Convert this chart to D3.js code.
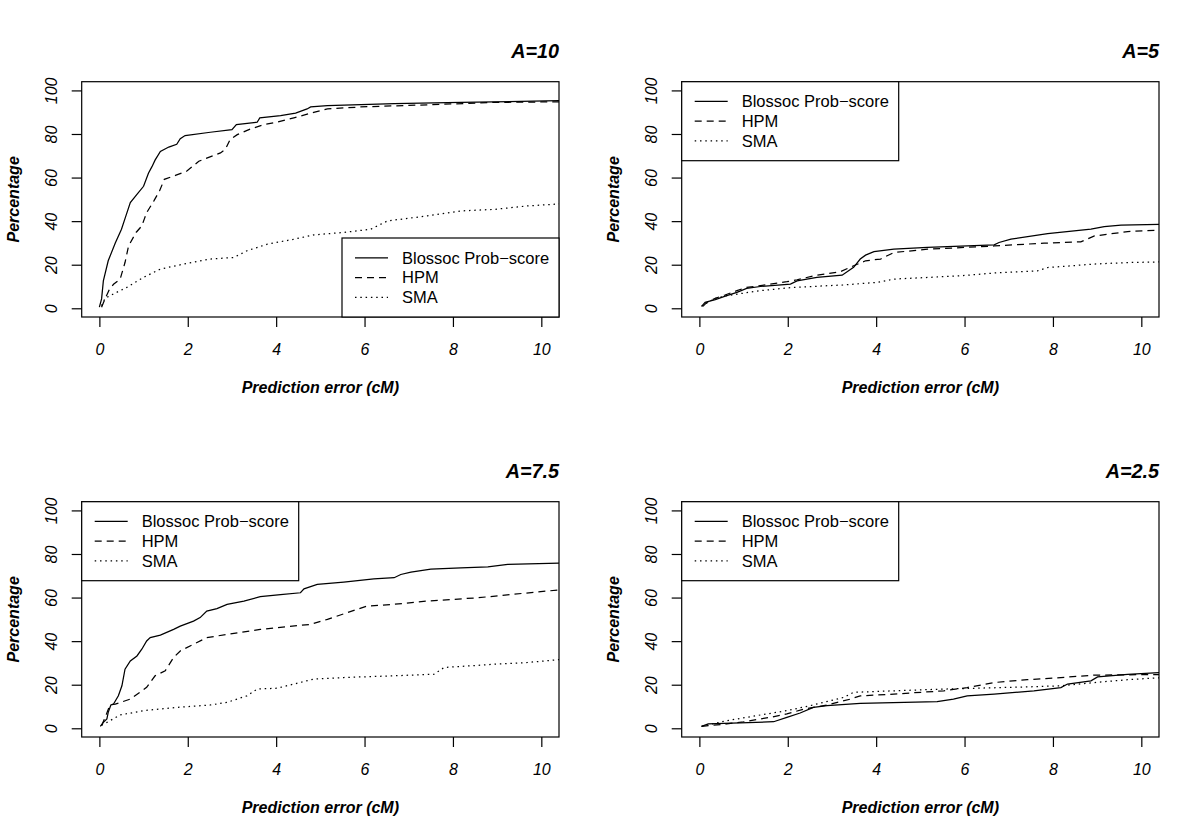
<!DOCTYPE html>
<html>
<head>
<meta charset="utf-8">
<script src="https://cdn.jsdelivr.net/npm/d3@7"></script>
<style>
  body { margin: 0; background: #fff; }
  svg { display: block; }
  text { font-family: "Liberation Sans", Arial, Helvetica, sans-serif; fill: #000; }
</style>
</head>
<body>
<svg id="chart" width="1200" height="840"></svg>
<script>
// ---- data: [prediction error (cM), percentage] ----
var titles = ["A=10", "A=5", "A=7.5", "A=2.5"];
var seriesNames = ["Blossoc Prob\u2212score", "HPM", "SMA"];
var xTicks = [0, 2, 4, 6, 8, 10];
var yTicks = [0, 20, 40, 60, 80, 100];

var a10_blossoc = [[0,0.5],[0.05,4.3],[0.09,12.6],[0.2,21.8],[0.36,30],[0.5,36.3],[0.6,42.4],[0.7,48.5],[0.85,52.3],[1.0,56],[1.11,62],[1.19,65],[1.26,68],[1.38,72],[1.57,74],[1.75,75.3],[1.83,77.8],[1.94,79.3],[2.51,80.8],[3.0,82],[3.1,84.3],[3.57,85.4],[3.63,87.4],[4.1,88.4],[4.44,89.6],[4.7,91.5],[4.78,92.4],[5.16,93],[6.67,93.9],[8.18,94.5],[10.5,95.3]];
var a10_hpm = [[0.05,0.5],[0.12,4],[0.23,8.8],[0.32,11],[0.47,13.4],[0.58,21],[0.66,28.6],[0.83,34.8],[0.96,37.8],[1.07,43.9],[1.23,49.2],[1.36,53.8],[1.47,59.2],[1.72,61],[1.98,63],[2.25,67.5],[2.74,71.3],[2.85,72.9],[2.96,77.5],[3.12,79.7],[3.42,82.3],[3.72,84.3],[4.02,85.4],[4.4,87.4],[4.85,89.9],[5.16,91.5],[5.9,92.4],[7.42,93.4],[8.94,94.5],[10.5,94.8]];
var a10_sma = [[0.05,1.2],[0.13,4.6],[0.32,6.6],[0.62,9.6],[1.0,14.2],[1.38,18],[1.91,20.3],[2.51,22.6],[3.04,23.3],[3.34,26.4],[3.8,29.4],[4.4,31.7],[4.85,33.7],[5.53,34.8],[6.14,36.3],[6.52,40.1],[7.42,42.4],[8.18,44.7],[8.94,45.4],[9.69,47],[10.5,48]];

var a5_blossoc = [[0.05,0.9],[0.13,2.7],[0.36,4],[0.62,5.8],[0.85,7.3],[1.07,9.1],[1.38,10],[2.06,11.1],[2.21,12.6],[2.66,14.2],[3.23,15.2],[3.49,18.8],[3.64,22.6],[3.76,24.4],[3.95,26],[4.4,27.1],[5.16,27.9],[6.67,29.1],[6.78,30.2],[7.05,31.7],[7.88,34.3],[8.86,36.3],[9.16,37.5],[9.54,38.2],[10.5,38.6]];
var a5_hpm = [[0.08,0.9],[0.17,2.7],[0.36,4.6],[0.58,6.1],[0.85,8.1],[1.07,9.6],[1.38,10.4],[1.98,12.2],[2.21,13.1],[2.66,15.2],[3.19,16.8],[3.49,19.5],[3.76,21.8],[4.1,22.6],[4.4,25.6],[5.16,27.1],[6.67,28.6],[7.8,29.9],[8.63,30.5],[8.94,33.2],[9.69,35.2],[10.5,36]];
var a5_sma = [[0.05,0.9],[0.32,4.3],[0.62,5.8],[1.38,8.1],[2.13,9.6],[3.25,10.7],[4.02,11.9],[4.4,13.4],[5.91,14.9],[6.67,16.2],[7.65,17.2],[7.88,18.7],[8.94,20.3],[9.69,21],[10.5,21.3]];

var a75_blossoc = [[0.02,0.9],[0.09,2.7],[0.17,4.3],[0.2,7.3],[0.26,10.7],[0.32,11.1],[0.43,14.9],[0.51,19.5],[0.58,27.1],[0.7,30.9],[0.85,33.2],[0.96,36.3],[1.07,40.1],[1.15,41.6],[1.38,42.8],[1.68,45.4],[1.83,46.9],[2.13,49.2],[2.28,50.8],[2.43,53.8],[2.66,54.9],[2.89,56.9],[3.27,58.4],[3.64,60.4],[4.1,61.4],[4.55,62.2],[4.63,64],[4.93,66],[5.53,67.1],[6.21,68.6],[6.67,69.1],[6.82,70.6],[7.05,71.7],[7.5,73.1],[8.18,73.6],[8.79,74.1],[9.24,75.2],[10.5,75.9]];
var a75_hpm = [[0.05,1.2],[0.15,6],[0.24,10.7],[0.36,11.1],[0.7,13.4],[1.07,18.8],[1.26,24.1],[1.49,26.4],[1.68,32.5],[1.83,35.5],[2.13,38.6],[2.43,41.6],[2.89,43.1],[3.64,45.4],[4.78,47.7],[5.16,50],[5.61,53.1],[6.06,56.1],[6.67,56.9],[7.42,58.4],[8.56,59.9],[9.31,61.4],[10.5,63.7]];
var a75_sma = [[0.05,1.5],[0.17,2.7],[0.47,6.1],[1.0,8.1],[1.75,9.6],[2.51,10.7],[2.89,11.9],[3.34,14.9],[3.57,18],[4.02,18.4],[4.4,20.3],[4.85,22.6],[5.53,23.3],[6.67,24.1],[7.57,24.8],[7.8,27.9],[8.94,29.4],[9.69,30.2],[10.5,31.7]];

var a25_blossoc = [[0.05,0.9],[0.2,2],[1.68,3],[1.98,5],[2.28,7],[2.58,9.6],[2.89,10.4],[3.64,11.4],[5.38,12.2],[5.75,13.4],[6.06,14.9],[6.67,15.7],[7.57,17.2],[8.18,18.7],[8.33,20.3],[8.86,21.8],[9.01,23.6],[9.69,24.8],[10.5,25.6]];
var a25_hpm = [[0.05,0.9],[0.62,2],[1.0,3],[1.6,5],[1.98,6.6],[2.36,8.8],[2.89,10.7],[3.42,13.4],[3.64,14.9],[4.4,15.7],[5.53,17.2],[6.06,18.7],[6.67,21],[7.42,22.3],[8.18,23.3],[8.94,24.4],[10.5,24.7]];
var a25_sma = [[0.05,0.9],[0.62,3.5],[1.38,6.1],[1.98,8.1],[2.51,10.4],[3.27,14.2],[3.49,16.5],[4.4,17.2],[5.53,18],[6.29,18.4],[7.42,19],[8.18,19.5],[8.94,21],[9.69,22.3],[10.5,23.3]];

var panelSeries = [
    [a10_blossoc, a10_hpm, a10_sma],
    [a5_blossoc, a5_hpm, a5_sma],
    [a75_blossoc, a75_hpm, a75_sma],
    [a25_blossoc, a25_hpm, a25_sma]
];
// legend at bottom right only in the first panel
var legendPos = ["bottomright", "topleft", "topleft", "topleft"];

var dashes = [null, "7,5", "1.5,3.8"];

var svg = d3.select("#chart"),
    boxL = 81.7, boxR = 559, boxT = 81.7, boxB = 317;

var x = d3.scaleLinear().domain([-0.4, 10.4]).range([boxL, boxR]);
var y = d3.scaleLinear().domain([-4, 104]).range([boxB, boxT]);

var line = d3.line()
    .x(function (d) { return x(d[0]); })
    .y(function (d) { return y(d[1]); });

svg.append("defs").append("clipPath").attr("id", "plotclip")
    .append("rect")
    .attr("x", boxL).attr("y", boxT)
    .attr("width", boxR - boxL).attr("height", boxB - boxT);

function drawPanel(i) {
    var g = svg.append("g")
        .attr("transform", "translate(" + (i % 2) * 600 + "," + Math.floor(i / 2) * 420 + ")");

    // curves
    var lines = g.append("g").attr("clip-path", "url(#plotclip)");
    panelSeries[i].forEach(function (s, k) {
        lines.append("path")
            .datum(s)
            .attr("d", line)
            .attr("fill", "none")
            .attr("stroke", "#000")
            .attr("stroke-width", 1.25)
            .attr("stroke-dasharray", dashes[k]);
    });

    // box
    g.append("rect")
        .attr("x", boxL).attr("y", boxT)
        .attr("width", boxR - boxL).attr("height", boxB - boxT)
        .attr("fill", "none").attr("stroke", "#000").attr("stroke-width", 1.2);

    // x axis
    var xa = g.append("g")
        .attr("transform", "translate(0," + boxB + ")")
        .call(d3.axisBottom(x).tickValues(xTicks).tickSize(10).tickSizeOuter(0).tickFormat(d3.format("d")));
    xa.select(".domain").remove();
    xa.selectAll("line").attr("stroke-width", 1.2);
    xa.selectAll("text")
        .attr("y", 38).attr("dy", null)
        .style("font-size", "16px").style("font-style", "italic")
        .style("font-family", "Liberation Sans, Arial, sans-serif");

    // y axis, labels rotated like base R
    var ya = g.append("g")
        .attr("transform", "translate(" + boxL + ",0)")
        .call(d3.axisLeft(y).tickValues(yTicks).tickSize(10).tickSizeOuter(0).tickFormat(d3.format("d")));
    ya.select(".domain").remove();
    ya.selectAll("line").attr("stroke-width", 1.2);
    ya.selectAll("text")
        .attr("transform", "rotate(-90)")
        .attr("x", 0).attr("y", -25).attr("dy", null)
        .attr("text-anchor", "middle")
        .style("font-size", "16px").style("font-style", "italic")
        .style("font-family", "Liberation Sans, Arial, sans-serif");

    // titles
    g.append("text")
        .attr("x", boxR).attr("y", 58)
        .attr("text-anchor", "end")
        .style("font-size", "19.8px").style("font-weight", "bold").style("font-style", "italic")
        .text(titles[i]);

    g.append("text")
        .attr("x", (boxL + boxR) / 2).attr("y", 393)
        .attr("text-anchor", "middle")
        .style("font-size", "16px").style("font-weight", "bold").style("font-style", "italic")
        .text("Prediction error (cM)");

    g.append("text")
        .attr("transform", "translate(19," + (boxT + boxB) / 2 + ") rotate(-90)")
        .attr("text-anchor", "middle")
        .style("font-size", "16px").style("font-weight", "bold").style("font-style", "italic")
        .text("Percentage");

    // legend
    var lw = 217, rowH = 19.75, lh = rowH * 4;
    var lx = legendPos[i] == "bottomright" ? boxR - lw : boxL;
    var ly = legendPos[i] == "bottomright" ? boxB - lh : boxT;
    var leg = g.append("g").attr("transform", "translate(" + lx + "," + ly + ")");
    leg.append("rect")
        .attr("width", lw).attr("height", lh)
        .attr("fill", "#fff").attr("stroke", "#000").attr("stroke-width", 1.2);
    seriesNames.forEach(function (name, k) {
        var ry = rowH * (k + 1);
        leg.append("line")
            .attr("x1", 13).attr("x2", 46)
            .attr("y1", ry).attr("y2", ry)
            .attr("stroke", "#000").attr("stroke-width", 1.25)
            .attr("stroke-dasharray", dashes[k]);
        leg.append("text")
            .attr("x", 60).attr("y", ry + 5.8)
            .style("font-size", "16.5px")
            .text(name);
    });
}

for (var i = 0; i < 4; i++) drawPanel(i);
</script>
</body>
</html>
